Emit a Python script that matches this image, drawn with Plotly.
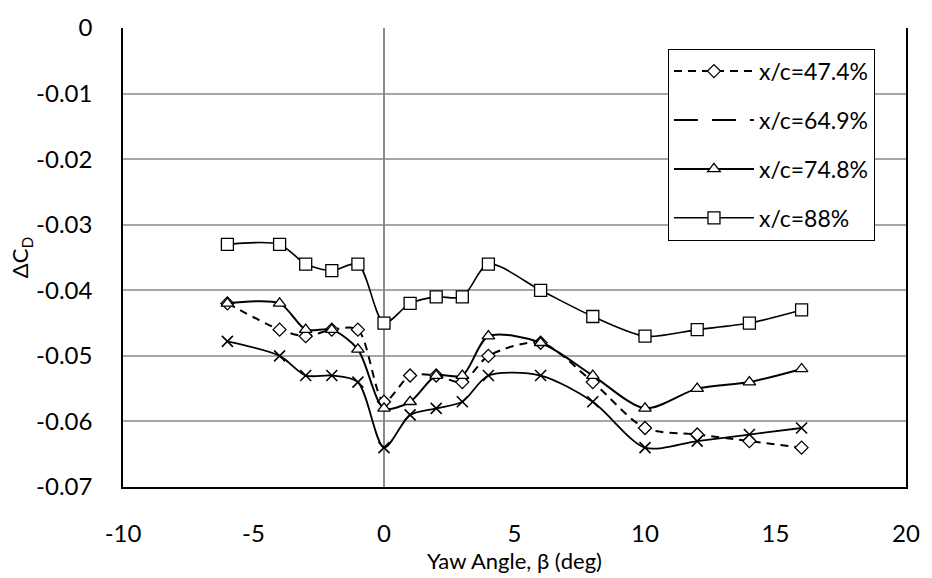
import plotly.graph_objects as go

yaw = [-6, -4, -3, -2, -1, 0, 1, 2, 3, 4, 6, 8, 10, 12, 14, 16]

cd_474 = [-0.042, -0.046, -0.047, -0.046, -0.046, -0.057, -0.053, -0.053, -0.054,
          -0.050, -0.048, -0.054, -0.061, -0.062, -0.063, -0.064]
cd_649 = [-0.0478, -0.050, -0.053, -0.053, -0.054, -0.064, -0.059, -0.058, -0.057,
          -0.053, -0.053, -0.057, -0.064, -0.063, -0.062, -0.061]
cd_748 = [-0.042, -0.042, -0.046, -0.046, -0.049, -0.058, -0.057, -0.053, -0.053,
          -0.047, -0.048, -0.053, -0.058, -0.055, -0.054, -0.052]
cd_88 = [-0.033, -0.033, -0.036, -0.037, -0.036, -0.045, -0.042, -0.041, -0.041,
         -0.036, -0.040, -0.044, -0.047, -0.046, -0.045, -0.043]

x_ticks = [-10, -5, 0, 5, 10, 15, 20]
y_ticks = [0, -0.01, -0.02, -0.03, -0.04, -0.05, -0.06, -0.07]
y_tick_text = ["0", "-0.01", "-0.02", "-0.03", "-0.04", "-0.05", "-0.06", "-0.07"]

FONT = "Lato"

fig = go.Figure()

# 64.9% series (x markers); its legend entry is shown as a plain long-dash line
fig.add_trace(go.Scatter(
    x=yaw, y=cd_649, name="x/c=64.9%", mode="lines+markers", showlegend=False,
    legendgroup="b",
    line=dict(color="black", width=1.8, shape="spline", smoothing=0.8),
    marker=dict(symbol="x-thin", size=11, line=dict(color="black", width=1.6)),
))
fig.add_trace(go.Scatter(
    x=yaw, y=cd_474, name="x/c=47.4%", mode="lines+markers", legendgroup="a",
    line=dict(color="black", width=2, dash="8px,6px", shape="spline", smoothing=0.8),
    marker=dict(symbol="diamond", size=10, color="white", line=dict(color="black", width=1.3)),
))
fig.add_trace(go.Scatter(
    x=[None], y=[None], name="x/c=64.9%", mode="lines", legendgroup="b",
    line=dict(color="black", width=2, dash="24px,14px"),
))
fig.add_trace(go.Scatter(
    x=yaw, y=cd_748, name="x/c=74.8%", mode="lines+markers", legendgroup="c",
    line=dict(color="black", width=2, shape="spline", smoothing=0.8),
    marker=dict(symbol="triangle-up", size=11, color="white", line=dict(color="black", width=1.3)),
))
fig.add_trace(go.Scatter(
    x=yaw, y=cd_88, name="x/c=88%", mode="lines+markers", legendgroup="d",
    line=dict(color="black", width=1.6, shape="spline", smoothing=0.8),
    marker=dict(symbol="square", size=12, color="white", line=dict(color="black", width=1.3)),
))

fig.update_layout(
    width=932, height=578,
    margin=dict(l=123, r=22, t=18, b=85),
    paper_bgcolor="white", plot_bgcolor="white",
    font=dict(family=FONT, size=24, color="black"),
    showlegend=True,
    legend=dict(
        x=0.696, y=0.955, xanchor="left", yanchor="top",
        bgcolor="white", bordercolor="black", borderwidth=1,
        font=dict(family=FONT, size=23, color="black"),
        tracegroupgap=16, itemwidth=80,
        traceorder="grouped",
    ),
    xaxis=dict(
        range=[-10, 20], tickvals=x_ticks, ticktext=[str(v) for v in x_ticks],
        showgrid=False, zeroline=True, zerolinecolor="#8a8a8a", zerolinewidth=2,
        showline=True, linecolor="black", linewidth=1.5, mirror=False,
        ticks="", ticklabelstandoff=24,
        title=dict(text="Yaw Angle, β (deg)", font=dict(family=FONT, size=22), standoff=4),
    ),
    yaxis=dict(
        range=[-0.07, 0], tickvals=y_ticks, ticktext=y_tick_text,
        showgrid=True, gridcolor="#a6a6a6", gridwidth=1.5,
        zeroline=False,
        showline=True, linecolor="black", linewidth=1.5, mirror=True,
        ticks="", ticklabelstandoff=24,
        title=dict(text="ΔC<sub>D</sub>", font=dict(family=FONT, size=22), standoff=0),
    ),
)

fig.write_html("out.html")
